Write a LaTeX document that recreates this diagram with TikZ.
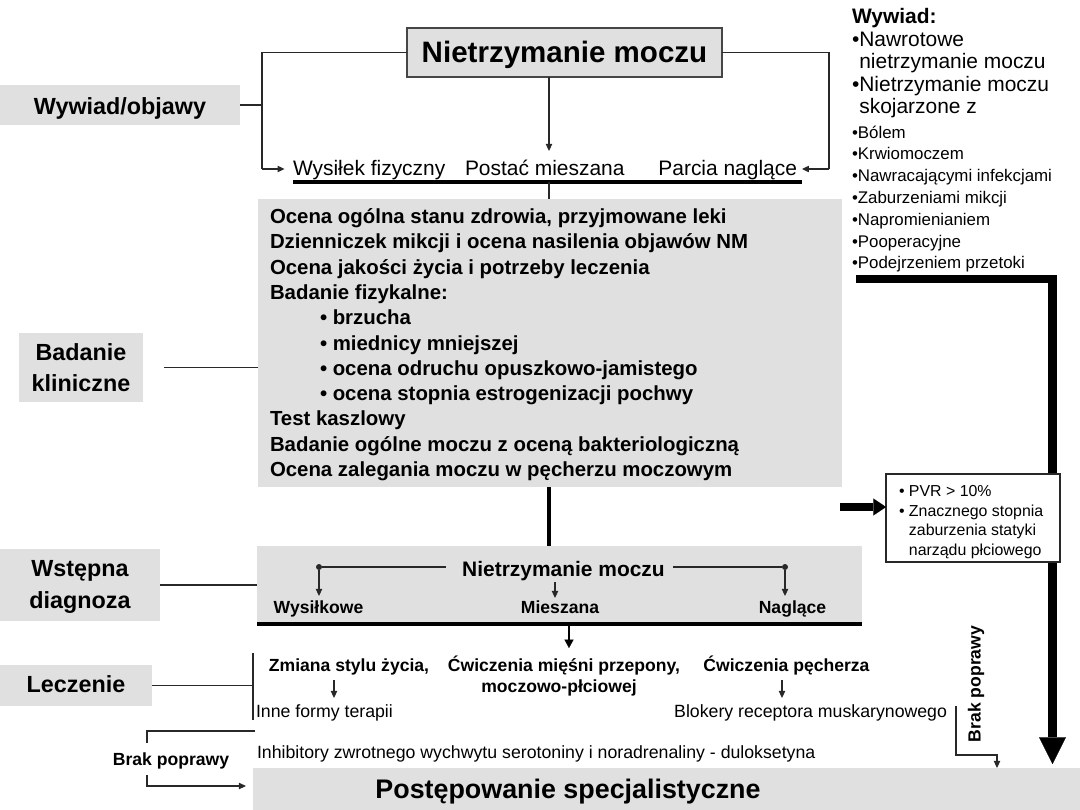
\documentclass[tikz,border=0pt]{standalone}
\usepackage{fontspec}
\setmainfont{Liberation Sans}
\usetikzlibrary{fit,arrows.meta}
\definecolor{boxgray}{RGB}{224,224,224}
\definecolor{linecol}{RGB}{40,40,40}
\definecolor{bordcol}{RGB}{70,70,70}
\newcommand\ftitle{\fontsize{21}{25}\selectfont\bfseries}
\newcommand\flbl{\fontsize{16.6}{21.5}\selectfont\bfseries}
\newcommand\frow{\fontsize{14.9}{18}\selectfont}
\newcommand\fclin{\fontsize{14.5}{17.9}\selectfont\bfseries}
\newcommand\fbig{\fontsize{14.9}{16}\selectfont}
\newcommand\fsmall{\fontsize{12}{15.4}\selectfont}
\newcommand\fpvr{\fontsize{11.3}{13.8}\selectfont}
\newcommand\flab{\fontsize{12.5}{15}\selectfont\bfseries}
\newcommand\freg{\fontsize{12.6}{15}\selectfont}
\newcommand\fpost{\fontsize{19.1}{23}\selectfont\bfseries}
\begin{document}
\begin{tikzpicture}[x=0.025cm,y=-0.025cm,
  every node/.style={inner sep=0pt, outer sep=0pt},
  gbox/.style={fill=boxgray, draw=none},
  ln/.style={draw=linecol, line width=0.75pt},
  arr/.style={ln, -{Triangle[length=5pt,width=4.5pt]}},
  heavy/.style={draw=black, line width=6pt},
  dot/.style={circle, fill=linecol, minimum size=0.15cm}]
\useasboundingbox (0,0) rectangle (1080,810);

% ---------- top: title and history ----------
\node[gbox, draw=bordcol, line width=0.8pt, fit={(407,28) (722,77)}] (title) {};
\node[font=\ftitle, anchor=base] (titleT) at (564.5,62) {Nietrzymanie moczu};
\node[gbox, fit={(0,85) (240,125)}] (wyw) {};
\node[font=\flbl, anchor=base] (wywT) at (120,114) {Wywiad/objawy};

\node[font=\frow, anchor=base west] (wf) at (293,175.5) {Wysiłek fizyczny};
\node[font=\frow, anchor=base west] (pm) at (465,175.5) {Postać mieszana};
\node[font=\frow, anchor=base east] (pn) at (797,175.5) {Parcia naglące};

\coordinate (c549) at (549,0);
\coordinate (brB) at (262,169);
\coordinate (brR) at (829,169);
\coordinate (pmTop) at (549,151);
\coordinate (ulL) at (293,182);
\coordinate (ulR) at (802,182);

\draw[ln] (title.west) -| (brB);
\draw[ln] (wyw.east) -- (wyw.east -| brB);
\draw[arr, shorten >=6pt] (brB) -- (brB -| wf.west);
\draw[ln] (title.east) -| (brR);
\draw[arr, shorten >=3.5pt] (brR) -- (brR -| pn.east);
\draw[arr] (title.south -| c549) -- (pmTop);
\draw[draw=black, line width=2.8pt] (ulL) -- (ulR);

% ---------- clinical examination ----------
\node[gbox, fit={(258,199) (842,487)}] (clin) {};
\draw[ln, line width=1.2pt] (c549 |- ulL) -- (c549 |- clin.north);
\node[font=\fclin, anchor=base west] (c1) at (270,223.5) {Ocena ogólna stanu zdrowia, przyjmowane leki};
\node[font=\fclin, anchor=base west] (c2) at (270,248.8) {Dzienniczek mikcji i ocena nasilenia objawów NM};
\node[font=\fclin, anchor=base west] (c3) at (270,274.1) {Ocena jakości życia i potrzeby leczenia};
\node[font=\fclin, anchor=base west] (c4) at (270,299.4) {Badanie fizykalne:};
\node[font=\fclin, anchor=base west] (c5) at (320,324.7) {• brzucha};
\node[font=\fclin, anchor=base west] (c6) at (320,350.0) {• miednicy mniejszej};
\node[font=\fclin, anchor=base west] (c7) at (320,375.3) {• ocena odruchu opuszkowo-jamistego};
\node[font=\fclin, anchor=base west] (c8) at (320,400.6) {• ocena stopnia estrogenizacji pochwy};
\node[font=\fclin, anchor=base west] (c9) at (270,425.9) {Test kaszlowy};
\node[font=\fclin, anchor=base west] (c10) at (270,451.2) {Badanie ogólne moczu z oceną bakteriologiczną};
\node[font=\fclin, anchor=base west] (c11) at (270,476.5) {Ocena zalegania moczu w pęcherzu moczowym};

\node[gbox, fit={(19,333) (143,402)}] (bk) {};
\node[font=\flbl, anchor=base] (bk1) at (81,360) {Badanie};
\node[font=\flbl, anchor=base] (bk2) at (81,391) {kliniczne};
\draw[ln] ([xshift=0.525cm]bk.east) -- (bk.east -| clin.west);

% ---------- right list ----------
\node[font=\fbig\bfseries, anchor=base west] (r1) at (852,23) {Wywiad:};
\node[font=\fbig, anchor=base west] (r2) at (852,46.5) {•Nawrotowe};
\node[font=\fbig, anchor=base west] (r3) at (852,68.5) {\phantom{•}nietrzymanie moczu};
\node[font=\fbig, anchor=base west] (r4) at (852,91) {•Nietrzymanie moczu};
\node[font=\fbig, anchor=base west] (r5) at (852,113.5) {\phantom{•}skojarzone z};
\node[font=\fsmall, anchor=base west] (r6) at (852,138) {•Bólem};
\node[font=\fsmall, anchor=base west] (r7) at (852,159.8) {•Krwiomoczem};
\node[font=\fsmall, anchor=base west] (r8) at (852,181.6) {•Nawracającymi infekcjami};
\node[font=\fsmall, anchor=base west] (r9) at (852,203.4) {•Zaburzeniami mikcji};
\node[font=\fsmall, anchor=base west] (r10) at (852,225.2) {•Napromienianiem};
\node[font=\fsmall, anchor=base west] (r11) at (852,247) {•Pooperacyjne};
\node[font=\fsmall, anchor=base west] (r12) at (852,268.8) {•Podejrzeniem przetoki};

% ---------- heavy arrows and PVR box ----------
\coordinate (thS) at (856,279);
\coordinate (thC) at (1052.5,279);
\coordinate (thE) at (1052.5,764);
\draw[heavy, -{Triangle[length=19pt,width=19pt,line width=0.1pt]}] (thS) -- (thC) -- (thE);

\node[draw=linecol, fill=white, line width=0.8pt, fit={(886,474) (1060,562)}] (pvr) {};
\node[font=\fpvr, anchor=base west] (p1) at (899,496.5) {• PVR > 10\%};
\node[font=\fpvr, anchor=base west] (p2) at (899,516) {• Znacznego stopnia};
\node[font=\fpvr, anchor=base west] (p3) at (899,535.5) {\phantom{• }zaburzenia statyki};
\node[font=\fpvr, anchor=base west] (p4) at (899,555) {\phantom{• }narządu płciowego};
\coordinate (pvrA) at (840,507);
\draw[heavy, -{Triangle[length=9pt,width=12pt,line width=0.1pt]}] (pvrA) -- (pvrA -| pvr.west);

% ---------- initial diagnosis ----------
\node[gbox, fit={(0,549) (160,621)}] (wd) {};
\node[font=\flbl, anchor=base] (wd1) at (80,576) {Wstępna};
\node[font=\flbl, anchor=base] (wd2) at (80,608) {diagnoza};
\node[gbox, fit={(257,546) (862,624)}] (diag) {};
\draw[draw=black, line width=2.2pt] (diag.south west) -- (diag.south east);
\draw[draw=black, line width=2.2pt] (clin.south -| c549) -- (c549 |- diag.north);
\draw[ln] (wd.east) -- (wd.east -| diag.west);

\node[font=\fbig\bfseries, anchor=base] (nm2) at (563.5,576) {Nietrzymanie moczu};
\node[dot] (dotL) at (319,567) {};
\node[dot] (dotR) at (785,567) {};
\coordinate (nmL) at (446,567);
\coordinate (nmR) at (673,567);
\draw[ln] (nmL) -- (dotL);
\draw[ln] (nmR) -- (dotR);
\node[font=\flab, anchor=base] (ws) at (318.5,613) {Wysiłkowe};
\node[font=\flab, anchor=base] (mi) at (560,613) {Mieszana};
\node[font=\flab, anchor=base] (na) at (792.5,613) {Naglące};
\coordinate (wsT) at (319,596);
\coordinate (naT) at (785,596);
\coordinate (miS) at (555,582);
\coordinate (miT) at (555,598);
\draw[arr] (dotL) -- (wsT);
\draw[arr] (dotR) -- (naT);
\draw[arr] (miS) -- (miT);

\coordinate (c569) at (569,0);
\coordinate (trT) at (569,648);
\draw[draw=black, line width=1.8pt, -{Triangle[length=6pt,width=6.5pt,line width=0.1pt]}] (c569 |- diag.south) -- (trT);

% ---------- treatment ----------
\node[gbox, fit={(0,665) (152,706)}] (lecz) {};
\node[font=\flbl, anchor=base] (leczT) at (76,692) {Leczenie};
\coordinate (brLT) at (253,653);
\coordinate (brLB) at (253,720);
\draw[ln] (brLT) -- (brLB);
\draw[ln] (lecz.east) -- (lecz.east -| brLT);

\node[font=\flab, anchor=base] (zm) at (349,671) {Zmiana stylu życia,};
\node[font=\flab, anchor=base] (cw1) at (564,671) {Ćwiczenia mięśni przepony,};
\node[font=\flab, anchor=base] (cw2) at (559,692) {moczowo-płciowej};
\node[font=\flab, anchor=base] (cp) at (786.5,671) {Ćwiczenia pęcherza};
\node[font=\freg, anchor=base west] (inne) at (256,717) {Inne formy terapii};
\node[font=\freg, anchor=base east] (blok) at (947,717) {Blokery receptora muskarynowego};
\node[font=\freg, anchor=base west] (inh) at (257,758) {Inhibitory zwrotnego wychwytu serotoniny i noradrenaliny - duloksetyna};
\coordinate (zmS) at (334,680);
\coordinate (zmT) at (334,698);
\coordinate (cpS) at (782,680);
\coordinate (cpT) at (782,698);
\draw[arr] (zmS) -- (zmT);
\draw[arr] (cpS) -- (cpT);

% ---------- specialist care ----------
\node[gbox, fit={(253,768) (1080,810)}] (post) {};
\node[font=\fpost, anchor=base] (postT) at (568,798) {Postępowanie specjalistyczne};

% left "Brak poprawy"
\node[font=\flab] (bpl) at (171,761) {Brak poprawy};
\coordinate (bp1) at (255,731);
\coordinate (bp2) at (147,731);
\coordinate (bp3) at (147,743);
\coordinate (bp4) at (147,775);
\coordinate (bp5) at (147,786);
\draw[ln] (bp1) -- (bp2) -- (bp3);
\draw[arr, shorten >=5pt] (bp4) -- (bp5) -- (bp5 -| post.west);

% right "Brak poprawy"
\node[font=\flab, rotate=90] (bpr) at (976,684) {Brak poprawy};
\coordinate (bq1) at (956,706);
\coordinate (bq2) at (956,755);
\coordinate (bq3) at (997,755);
\draw[arr] (bq1) -- (bq2) -- (bq3) -- (bq3 |- post.north);
\end{tikzpicture}
\end{document}
